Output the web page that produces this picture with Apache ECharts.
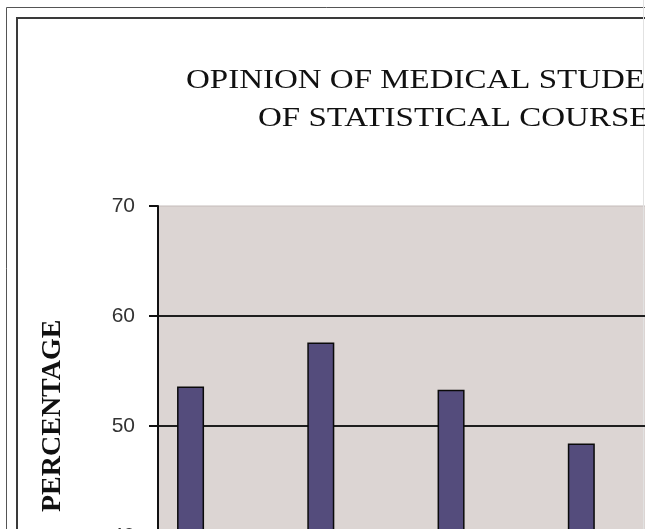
<!DOCTYPE html>
<html>
<head>
<meta charset="utf-8">
<script src="https://cdn.jsdelivr.net/npm/echarts@6/dist/echarts.min.js"></script>
<style>
  html, body { margin: 0; padding: 0; background: #ffffff; }
  #chart { width: 645px; height: 529px; }
</style>
</head>
<body>
<div id="chart"></div>
<script>
// ---- data ----
var categories = ['Q1', 'Q2', 'Q3', 'Q4'];
var percentages = [53.6, 57.6, 53.3, 48.4];
var yTicks = [0, 10, 20, 30, 40, 50, 60, 70];
var titleLines = ['OPINION OF MEDICAL STUDENTS', 'OF STATISTICAL COURSE'];
var yAxisTitle = 'PERCENTAGE';

// bars sit in every other category slot (empty slots between them)
var xSlots = [];
var ySlots = [];
categories.forEach(function (c, i) {
  xSlots.push(c); ySlots.push(percentages[i]);
  xSlots.push(''); ySlots.push(null);
});

var chart = echarts.init(document.getElementById('chart'), null, { renderer: 'canvas' });

var option = {
  backgroundColor: '#ffffff',
  animation: false,
  grid: {
    left: 158, top: 206, width: 521, height: 770,
    show: true, backgroundColor: '#DCD5D3',
    borderColor: '#c4bcba', borderWidth: 1,
    containLabel: false,
    outerBoundsMode: 'none'
  },
  xAxis: {
    type: 'category',
    data: xSlots,
    axisLabel: { show: false },
    axisTick: { show: false },
    axisLine: { lineStyle: { color: '#111', width: 2 } }
  },
  yAxis: {
    type: 'value',
    min: yTicks[0],
    max: yTicks[yTicks.length - 1],
    interval: yTicks[1] - yTicks[0],
    axisLine: { show: true, lineStyle: { color: '#111', width: 2 } },
    axisTick: { show: true, inside: false, length: 9, lineStyle: { color: '#111', width: 2 } },
    axisLabel: {
      margin: 23, fontSize: 21, color: '#333',
      fontFamily: 'Liberation Sans, Arial, sans-serif'
    },
    splitLine: { show: true, showMaxLine: false, lineStyle: { color: '#1e1e1e', width: 2 } }
  },
  series: [{
    type: 'bar',
    data: ySlots,
    barWidth: 27,
    itemStyle: { color: '#544C7C', borderColor: '#0a0a0a', borderWidth: 1.5 }
  }],
  graphic: [
    { type: 'rect', shape: { x: 6.5, y: 7.5, width: 800, height: 700 },
      style: { fill: null, stroke: '#555', lineWidth: 1 }, silent: true },
    { type: 'rect', shape: { x: 17, y: 18, width: 800, height: 700 },
      style: { fill: null, stroke: '#3a3a3a', lineWidth: 2 }, silent: true },
    { type: 'line', shape: { x1: 643.5, y1: 0, x2: 643.5, y2: 529 },
      style: { stroke: '#e2e2e2', lineWidth: 1 }, silent: true },
    { type: 'text', x: 186, y: 81, scaleX: 1.178,
      style: { text: titleLines[0], fontSize: 28, fontFamily: 'Liberation Serif, Times New Roman, serif',
               fill: '#111', align: 'left', verticalAlign: 'middle' } },
    { type: 'text', x: 258, y: 119, scaleX: 1.178,
      style: { text: titleLines[1], fontSize: 28, fontFamily: 'Liberation Serif, Times New Roman, serif',
               fill: '#111', align: 'left', verticalAlign: 'middle' } },
    { type: 'text', x: 67, y: 512, rotation: Math.PI / 2,
      style: { text: yAxisTitle, fontSize: 28, fontWeight: 'bold',
               fontFamily: 'Liberation Serif, Times New Roman, serif',
               fill: '#111', align: 'left', verticalAlign: 'bottom' } }
  ]
};

chart.setOption(option);
</script>
</body>
</html>
